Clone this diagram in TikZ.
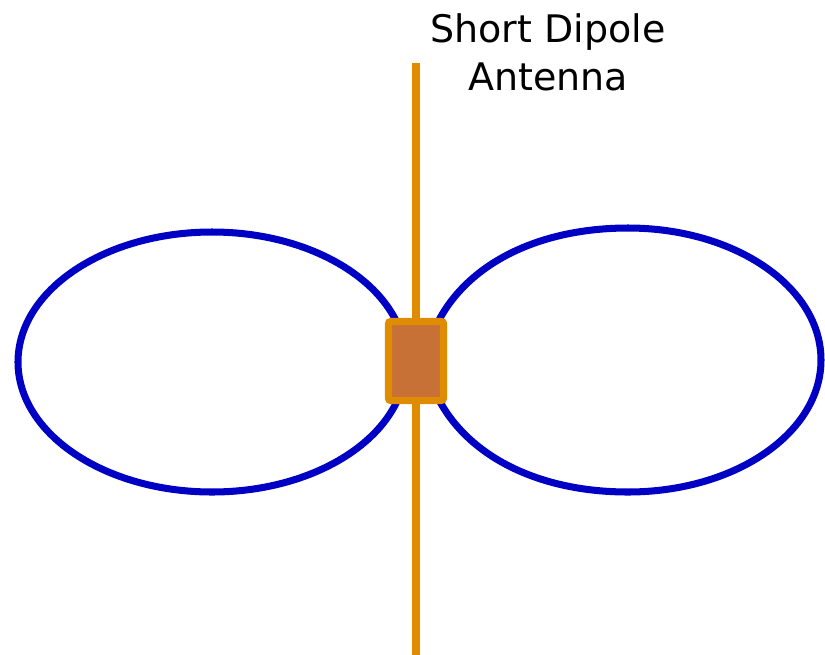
\documentclass[tikz,border=0pt]{standalone}
\usepackage{fontspec}
\usetikzlibrary{positioning}
\newfontfamily\labelfont{DejaVu Sans}
\definecolor{lobe}{HTML}{0000C4}
\definecolor{rod}{HTML}{E08C00}
\definecolor{feedfill}{HTML}{C87137}
\tikzset{lobeline/.style={draw=lobe,line width=5pt}, rodline/.style={draw=rod,line width=5.2pt}, feedbox/.style={draw=rod,fill=feedfill,line width=5pt,rounded corners=1.5pt,minimum width=1.375cm,minimum height=1.975cm,inner sep=0pt}, title/.style={align=center,font=\labelfont\fontsize{27pt}{34pt}\selectfont}}
\begin{document}
\begin{tikzpicture}[x=0.025cm,y=-0.025cm]
\useasboundingbox (0,0) rectangle (825,654);
\coordinate (c) at (416,361);\coordinate (top) at (416,63);\coordinate (bot) at (416,660);
\draw[lobeline](212,362) ellipse [x radius=194,y radius=130];
\draw[lobeline](425,360) .. controls (440,280) and (520,228) .. (628,228) .. controls (735,228) and (821,287) .. (821,360) .. controls (821,433) and (735,492) .. (628,492) .. controls (520,492) and (440,440) .. (425,360);
\draw[rodline](top)--(bot);
\node[feedbox](feed) at (c){};
\node[title,anchor=base](name) at (548,90){Short Dipole\\Antenna};
\end{tikzpicture}
\end{document}
